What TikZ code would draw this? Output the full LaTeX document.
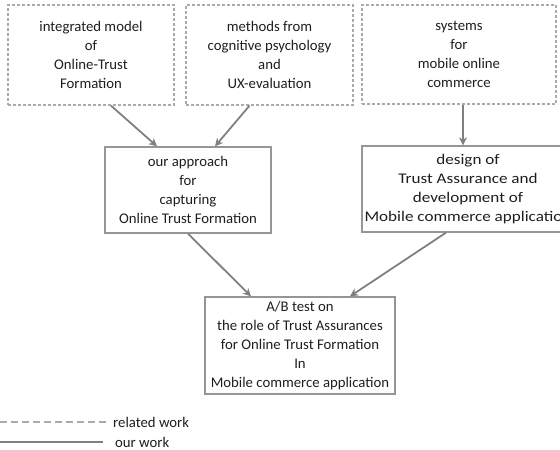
\documentclass[tikz,border=0pt]{standalone}
\usepackage{fontspec}
\setmainfont{Carlito}
\newfontfamily\widefont[FakeStretch=1.16]{Carlito}
\usepackage{tikz}
\usetikzlibrary{positioning,arrows.meta}
\definecolor{twline}{RGB}{128,128,128}
\definecolor{twbox}{RGB}{150,150,150}
\definecolor{twdash}{RGB}{170,170,170}
\definecolor{twtext}{RGB}{30,30,30}
\tikzset{
  box/.style={draw=twbox, line width=1.3pt, align=center, inner sep=2pt,
              text=twtext, font=\fontsize{14.75}{19}\selectfont},
  relbox/.style={box, draw=twdash, dash pattern=on 3pt off 2pt},
  ourbox/.style={box},
  flow/.style={-{Stealth[length=8pt,width=8pt,inset=2.5pt]}, line width=1.8pt, color=twline},
  relline/.style={line width=1.6pt, color=twdash, dash pattern=on 7pt off 4pt},
  ourline/.style={line width=1.8pt, color=twline},
  lgd/.style={anchor=west, inner sep=0pt, text=twtext, font=\fontsize{14.75}{19}\selectfont},
}
\begin{document}
\begin{tikzpicture}[x=1pt,y=-1pt]
\useasboundingbox (0,0) rectangle (560,450);
% related work
\node[relbox, minimum width=166pt, minimum height=100pt] (model) at (91,55)
  {integrated model\\of\\Online-Trust\\Formation};
\node[relbox, minimum width=167pt, minimum height=100pt] (methods) at (269.5,55)
  {methods from\\cognitive psychology\\and\\UX-evaluation};
\node[relbox, minimum width=194pt, minimum height=99pt] (systems) at (459,54.5)
  {systems\\for\\mobile online\\commerce};
% our work
\node[ourbox, minimum width=166pt, minimum height=86pt] (approach) at (188,190)
  {our approach\\for\\capturing\\Online Trust Formation};
\node[ourbox, minimum width=212pt, minimum height=86pt, font=\widefont\fontsize{14.75}{19}\selectfont]
  (design) at (468,189) {design of\\Trust Assurance and\\development of\\Mobile commerce application};
\node[ourbox, minimum width=190pt, minimum height=97pt] (abtest) at (300,345.5)
  {A/B test on\\the role of Trust Assurances\\for Online Trust Formation\\In\\Mobile commerce application};
\draw[flow] ([xshift=20pt]model.south) -- ([xshift=-31pt]approach.north);
\draw[flow] ([xshift=-20pt]methods.south) -- ([xshift=27pt]approach.north);
\draw[flow] ([xshift=4pt]systems.south) -- ([xshift=4pt]systems.south |- design.north);
\draw[flow] ([xshift=0pt]approach.south) -- ([xshift=-49pt]abtest.north);
\draw[flow] ([xshift=-22pt]design.south) -- ([xshift=50pt]abtest.north);
% legend
\node[lgd] (relw) at (113,422) {related work};
\node[lgd] (ourw) at (115,442) {our work};
\coordinate (lgrel) at (0,422);
\coordinate (lgour) at (0,442);
\draw[relline] (lgrel) -- ([xshift=-6pt]relw.west);
\draw[ourline] (lgour) -- ([xshift=-12pt]ourw.west);
\end{tikzpicture}
\end{document}
